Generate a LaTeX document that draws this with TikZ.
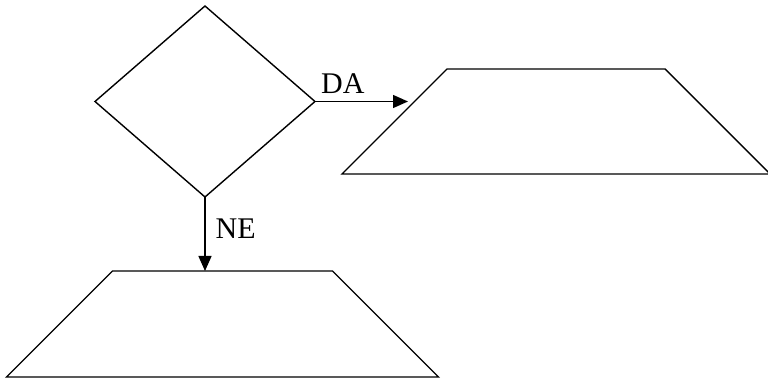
\documentclass[tikz,border=0pt]{standalone}
\usepackage{fontspec}
\setmainfont{Liberation Serif}
\usetikzlibrary{shapes.geometric,arrows.meta}
\begin{document}
\begin{tikzpicture}[x=1pt,y=-1pt,line width=1.4pt,font=\fontsize{30}{32}\selectfont,
  test box/.style={diamond,draw,inner sep=0pt,outer sep=0pt,
    minimum width=220pt,minimum height=191pt},
  io box/.style={trapezium,draw,trapezium left angle=45,trapezium right angle=45,
    inner xsep=109pt,inner ysep=52.5pt,outer sep=0pt},
  flow/.style={-{Triangle[length=15pt,width=13pt]}},
  answer/.style={inner sep=0pt}]
\useasboundingbox (0,0) rectangle (768,379);
\node[test box] (test) at (205,101.5) {};
\node[io box] (yes) at (556,121.5) {};
\node[io box,inner ysep=53pt,inner xsep=110pt] (no) at (222.5,324) {};
\coordinate (yes end) at (408,101.5);
\draw[flow] (test.east) -- node[answer,pos=0.3,above=7pt] {DA} (yes end);
\draw[flow] (test.south) -- node[answer,pos=0.43,right=10pt] {NE} (test.south |- no.north);
\end{tikzpicture}
\end{document}
